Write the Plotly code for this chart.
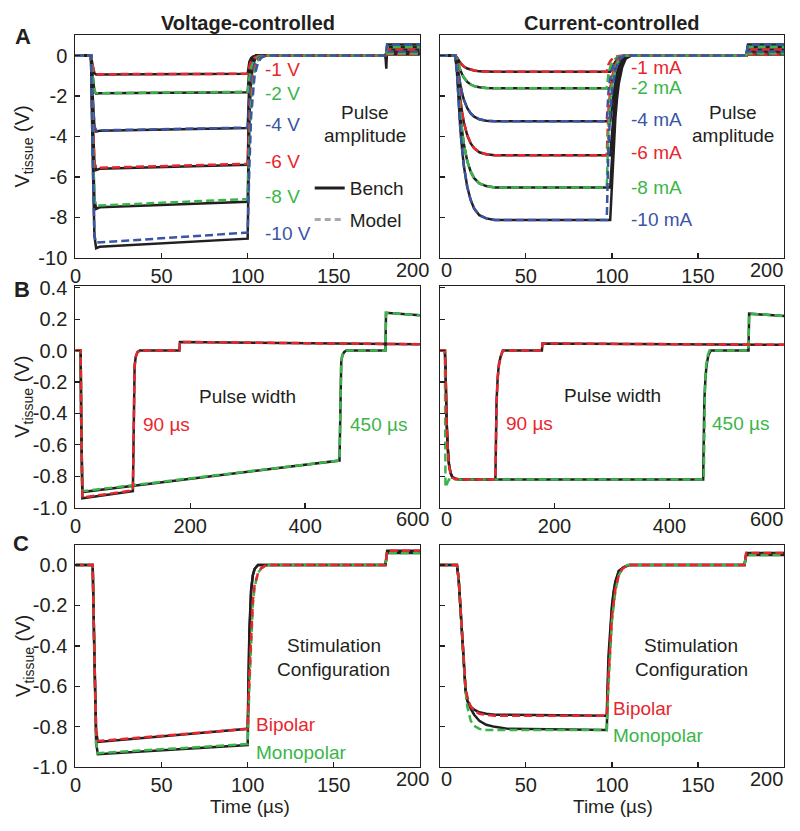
import plotly.graph_objects as go

# ---------------- colours / fonts (style) ----------------
RED = "#e8262d"
GREEN = "#3bb54a"
BLUE = "#3a55a5"
INK = "#231f20"
GRAY = "#a7a9ac"
FONT = "Liberation Sans, Arial, Helvetica, sans-serif"
FS = 20
FS_LAB = 19

# ---------------- DATA ----------------
# Panel A : pulse amplitude
A_V_LABELS = ["-1 V", "-2 V", "-4 V", "-6 V", "-8 V", "-10 V"]
A_I_LABELS = ["-1 mA", "-2 mA", "-4 mA", "-6 mA", "-8 mA", "-10 mA"]
A_V_LABEL_Y = [-0.68, -1.85, -3.4, -5.26, -6.96, -8.8]
A_I_LABEL_Y = [-0.6, -1.56, -3.17, -4.78, -6.52, -8.08]

A_V_T_BENCH = [0, 9, 10, 11, 12, 14, 100, 100.5, 101, 102, 103, 105, 180, 180.5, 181, 200]
A_V_BENCH = [
    [0, 0, -0.5, -0.88, -0.94, -0.93, -0.9, -0.55, -0.3, -0.12, -0.05, 0, 0, 0.03, 0.05, 0.05],
    [0, 0, -1.0, -1.76, -1.88, -1.86, -1.81, -1.1, -0.6, -0.25, -0.1, 0, 0, 0.05, 0.1, 0.1],
    [0, 0, -2.0, -3.52, -3.76, -3.72, -3.58, -2.2, -1.2, -0.5, -0.2, 0, 0, 0.1, 0.2, 0.2],
    [0, 0, -3.0, -5.3, -5.66, -5.6, -5.4, -3.3, -1.8, -0.75, -0.3, 0, 0, 0.15, 0.3, 0.3],
    [0, 0, -4.0, -7.1, -7.58, -7.5, -7.23, -4.4, -2.4, -1.0, -0.4, 0, 0, -0.2, 0.42, 0.42],
    [0, 0, -5.0, -8.9, -9.52, -9.45, -9.05, -5.5, -3.0, -1.25, -0.5, 0, 0, -0.65, 0.55, 0.55],
]
A_V_T_MODEL = [0, 9, 10, 11, 12, 100, 101, 102, 104, 106, 108, 111, 180, 181, 200]
A_V_MODEL = [
    [0, 0, -0.5, -0.88, -0.92, -0.9, -0.55, -0.3, -0.1, -0.03, -0.01, 0, 0, 0.05, 0.05],
    [0, 0, -1.0, -1.75, -1.86, -1.79, -1.1, -0.6, -0.2, -0.07, -0.02, 0, 0, 0.1, 0.1],
    [0, 0, -2.0, -3.5, -3.7, -3.56, -2.2, -1.2, -0.4, -0.13, -0.04, 0, 0, 0.2, 0.2],
    [0, 0, -3.0, -5.3, -5.55, -5.35, -3.3, -1.8, -0.6, -0.2, -0.06, 0, 0, 0.3, 0.3],
    [0, 0, -4.0, -7.1, -7.42, -7.09, -4.4, -2.4, -0.8, -0.27, -0.08, 0, 0, 0.42, 0.42],
    [0, 0, -5.0, -8.9, -9.25, -8.75, -5.5, -3.0, -1.0, -0.33, -0.1, 0, 0, 0.55, 0.55],
]

A_I_T_BENCH = [0, 9, 10, 11, 12, 13, 14, 16, 18, 20, 23, 27, 32, 99, 100, 101, 102, 103, 104, 106, 108, 111, 178, 179, 200]
A_I_BENCH = [
    [0, 0, -0.08, -0.24, -0.36, -0.46, -0.54, -0.64, -0.7, -0.74, -0.78, -0.79, -0.8, -0.8, -0.64, -0.44, -0.3, -0.21, -0.14, -0.06, -0.02, 0, 0, 0.05, 0.05],
    [0, 0, -0.16, -0.49, -0.73, -0.92, -1.09, -1.3, -1.43, -1.51, -1.57, -1.6, -1.62, -1.62, -1.3, -0.89, -0.62, -0.42, -0.28, -0.11, -0.03, 0, 0, 0.1, 0.1],
    [0, 0, -0.33, -0.98, -1.46, -1.85, -2.18, -2.6, -2.86, -3.02, -3.15, -3.22, -3.25, -3.25, -2.6, -1.79, -1.24, -0.85, -0.55, -0.23, -0.07, 0, 0, 0.2, 0.2],
    [0, 0, -0.49, -1.48, -2.22, -2.81, -3.3, -3.94, -4.34, -4.58, -4.78, -4.88, -4.93, -4.93, -3.94, -2.71, -1.87, -1.28, -0.84, -0.35, -0.1, 0, 0, 0.3, 0.3],
    [0, 0, -0.65, -1.96, -2.93, -3.72, -4.37, -5.22, -5.74, -6.06, -6.32, -6.45, -6.52, -6.52, -5.22, -3.59, -2.48, -1.7, -1.11, -0.46, -0.13, 0, 0, 0.42, 0.42],
    [0, 0, -0.81, -2.44, -3.66, -4.63, -5.45, -6.5, -7.15, -7.56, -7.89, -8.05, -8.13, -8.13, -6.5, -4.47, -3.09, -2.11, -1.38, -0.57, -0.16, 0, 0, 0.55, 0.55],
]
A_I_T_MODEL = [0, 9, 10, 11, 12, 13, 14, 16, 18, 20, 23, 27, 32, 97, 98, 99, 100, 102, 104, 107, 178, 179, 200]
A_I_MODEL = [
    [0, 0, -0.08, -0.24, -0.36, -0.46, -0.54, -0.64, -0.7, -0.74, -0.78, -0.79, -0.8, -0.8, -0.44, -0.28, -0.18, -0.07, -0.02, 0, 0, 0.05, 0.05],
    [0, 0, -0.16, -0.49, -0.73, -0.92, -1.09, -1.3, -1.43, -1.51, -1.57, -1.6, -1.62, -1.62, -0.89, -0.57, -0.36, -0.15, -0.05, 0, 0, 0.1, 0.1],
    [0, 0, -0.33, -0.98, -1.46, -1.85, -2.18, -2.6, -2.86, -3.02, -3.15, -3.22, -3.25, -3.25, -1.79, -1.14, -0.72, -0.29, -0.1, 0, 0, 0.2, 0.2],
    [0, 0, -0.49, -1.48, -2.22, -2.81, -3.3, -3.94, -4.34, -4.58, -4.78, -4.88, -4.93, -4.93, -2.71, -1.73, -1.08, -0.44, -0.15, 0, 0, 0.3, 0.3],
    [0, 0, -0.65, -1.96, -2.93, -3.72, -4.37, -5.22, -5.74, -6.06, -6.32, -6.45, -6.52, -6.52, -3.59, -2.28, -1.43, -0.59, -0.2, 0, 0, 0.42, 0.42],
    [0, 0, -0.81, -2.44, -3.66, -4.63, -5.45, -6.5, -7.15, -7.56, -7.89, -8.05, -8.13, -8.13, -4.47, -2.85, -1.79, -0.73, -0.24, 0, 0, 0.55, 0.55],
]

# Panel B : pulse width (90 us and 450 us)
B_WIDTH_LABELS = ["90 µs", "450 µs"]
B_V_T_90 = [0, 9, 10, 11, 12, 100, 101, 102, 103, 105, 108, 112, 181, 182, 600]
B_V_BENCH_90 = [0, 0, -0.45, -0.88, -0.94, -0.895, -0.45, -0.2, -0.1, -0.04, -0.01, 0, 0, 0.055, 0.04]
B_V_MODEL_90 = [0, 0, -0.45, -0.88, -0.935, -0.89, -0.45, -0.2, -0.1, -0.04, -0.01, 0, 0, 0.055, 0.04]
B_V_T_450 = [0, 9, 10, 11, 12, 460, 461, 462, 463, 465, 468, 472, 540, 541, 600]
B_V_BENCH_450 = [0, 0, -0.45, -0.85, -0.9, -0.7, -0.35, -0.15, -0.07, -0.03, -0.01, 0, 0, 0.24, 0.225]
B_V_MODEL_450 = [0, 0, -0.45, -0.85, -0.895, -0.7, -0.35, -0.15, -0.07, -0.03, -0.01, 0, 0, 0.24, 0.225]

B_I_T_90 = [0, 9, 10, 11, 12, 14, 16, 19, 22, 27, 35, 97, 98, 99, 101, 103, 106, 110, 178, 179, 600]
B_I_BENCH_90 = [0, 0, -0.1, -0.3, -0.45, -0.62, -0.72, -0.78, -0.805, -0.815, -0.82, -0.82, -0.5, -0.32, -0.17, -0.09, -0.04, 0, 0, 0.045, 0.037]
B_I_MODEL_90 = [0, 0, -0.1, -0.3, -0.46, -0.63, -0.73, -0.785, -0.81, -0.818, -0.82, -0.82, -0.52, -0.33, -0.18, -0.1, -0.04, 0, 0, 0.045, 0.037]
B_I_T_450_BENCH = [0, 9, 10, 11, 12, 14, 16, 19, 22, 27, 35, 459, 460, 461, 463, 465, 468, 472, 538, 539, 600]
B_I_BENCH_450 = [0, 0, -0.1, -0.3, -0.45, -0.62, -0.72, -0.78, -0.805, -0.815, -0.82, -0.82, -0.5, -0.32, -0.17, -0.09, -0.03, 0, 0, 0.235, 0.22]
B_I_T_450_MODEL = [0, 9, 10, 13, 16, 460, 461, 462, 464, 467, 470, 538, 539, 600]
B_I_MODEL_450 = [0, 0, -0.87, -0.84, -0.82, -0.82, -0.45, -0.25, -0.1, -0.03, 0, 0, 0.235, 0.22]

# Panel C : stimulation configuration (bipolar / monopolar)
C_CONFIG_LABELS = ["Bipolar", "Monopolar"]
C_V_T_BENCH = [0, 10, 11, 12, 13, 100, 100.5, 101, 102, 103, 104, 106, 180, 181, 200]
C_V_BENCH_BI = [0, 0, -0.45, -0.82, -0.875, -0.81, -0.55, -0.32, -0.12, -0.05, -0.02, 0, 0, 0.07, 0.07]
C_V_BENCH_MONO = [0, 0, -0.45, -0.88, -0.935, -0.89, -0.6, -0.35, -0.13, -0.05, -0.02, 0, 0, 0.06, 0.06]
C_V_T_MODEL = [0, 10, 11, 12, 13, 100, 101, 102, 103, 104, 106, 108, 111, 180, 181, 200]
C_V_MODEL_BI = [0, 0, -0.45, -0.82, -0.87, -0.81, -0.55, -0.32, -0.18, -0.1, -0.04, -0.015, 0, 0, 0.07, 0.07]
C_V_MODEL_MONO = [0, 0, -0.45, -0.88, -0.93, -0.885, -0.6, -0.35, -0.2, -0.11, -0.04, -0.015, 0, 0, 0.06, 0.06]

C_I_T_BENCH = [0, 10, 11, 12, 13, 14, 15, 16, 18, 20, 23, 27, 32, 40, 97, 98, 99, 100, 101, 102, 104, 107, 110, 177, 178, 200]
C_I_BENCH_BI = [0, 0, -0.07, -0.2, -0.35, -0.5, -0.62, -0.67, -0.7, -0.715, -0.728, -0.735, -0.74, -0.74, -0.745, -0.45, -0.3, -0.2, -0.13, -0.08, -0.03, -0.01, 0, 0, 0.06, 0.06]
C_I_BENCH_MONO = [0, 0, -0.07, -0.2, -0.35, -0.5, -0.62, -0.67, -0.71, -0.74, -0.77, -0.79, -0.8, -0.81, -0.815, -0.5, -0.33, -0.22, -0.14, -0.09, -0.03, -0.01, 0, 0, 0.05, 0.05]
C_I_T_MODEL = [0, 10, 11, 12, 13, 14, 15, 16, 18, 20, 23, 27, 32, 40, 97, 98, 99, 100, 102, 104, 106, 109, 177, 178, 200]
C_I_MODEL_BI = [0, 0, -0.07, -0.2, -0.35, -0.5, -0.6, -0.65, -0.7, -0.72, -0.735, -0.74, -0.745, -0.745, -0.745, -0.55, -0.38, -0.26, -0.12, -0.05, -0.02, 0, 0, 0.06, 0.06]
C_I_MODEL_MONO = [0, 0, -0.07, -0.2, -0.35, -0.5, -0.62, -0.7, -0.77, -0.795, -0.81, -0.815, -0.815, -0.815, -0.815, -0.6, -0.41, -0.28, -0.13, -0.05, -0.02, 0, 0, 0.05, 0.05]

# Ticks
X_TICKS_200 = [0, 50, 100, 150, 200]
X_TICKS_600 = [0, 200, 400, 600]
A_Y_TICKS = [0, -2, -4, -6, -8, -10]
A_Y_TICKTEXT = ["0", "-2", "-4", "-6", "-8", "-10"]
B_Y_TICKS = [0.4, 0.2, 0.0, -0.2, -0.4, -0.6, -0.8, -1.0]
B_Y_TICKTEXT = ["0.4", "0.2", "0.0", "-0.2", "-0.4", "-0.6", "-0.8", "-1.0"]
C_Y_TICKS = [0.0, -0.2, -0.4, -0.6, -0.8, -1.0]
C_Y_TICKTEXT = ["0.0", "-0.2", "-0.4", "-0.6", "-0.8", "-1.0"]

# ---------------- FIGURE ----------------
W, H = 800, 831
fig = go.Figure()

LW = 2.5
DASH = "8px,4px"


def bench(xa, ya, t, v):
    fig.add_trace(go.Scatter(x=t, y=v, mode="lines", xaxis=xa, yaxis=ya,
                             line=dict(color=INK, width=LW), showlegend=False,
                             hoverinfo="skip"))


def model(xa, ya, t, v, color):
    fig.add_trace(go.Scatter(x=t, y=v, mode="lines", xaxis=xa, yaxis=ya,
                             line=dict(color=color, width=LW, dash=DASH),
                             showlegend=False, hoverinfo="skip"))


A_COLORS = [RED, GREEN, BLUE, RED, GREEN, BLUE]

# Panel A
for v in A_V_BENCH:
    bench("x", "y", A_V_T_BENCH, v)
for v, c in zip(A_V_MODEL, A_COLORS):
    model("x", "y", A_V_T_MODEL, v, c)
for v in A_I_BENCH:
    bench("x2", "y2", A_I_T_BENCH, v)
for v, c in zip(A_I_MODEL, A_COLORS):
    model("x2", "y2", A_I_T_MODEL, v, c)

# Panel B
bench("x3", "y3", B_V_T_450, B_V_BENCH_450)
bench("x3", "y3", B_V_T_90, B_V_BENCH_90)
model("x3", "y3", B_V_T_450, B_V_MODEL_450, GREEN)
model("x3", "y3", B_V_T_90, B_V_MODEL_90, RED)
bench("x4", "y4", B_I_T_450_BENCH, B_I_BENCH_450)
bench("x4", "y4", B_I_T_90, B_I_BENCH_90)
model("x4", "y4", B_I_T_450_MODEL, B_I_MODEL_450, GREEN)
model("x4", "y4", B_I_T_90, B_I_MODEL_90, RED)

# Panel C
bench("x5", "y5", C_V_T_BENCH, C_V_BENCH_MONO)
bench("x5", "y5", C_V_T_BENCH, C_V_BENCH_BI)
model("x5", "y5", C_V_T_MODEL, C_V_MODEL_MONO, GREEN)
model("x5", "y5", C_V_T_MODEL, C_V_MODEL_BI, RED)
bench("x6", "y6", C_I_T_BENCH, C_I_BENCH_MONO)
bench("x6", "y6", C_I_T_BENCH, C_I_BENCH_BI)
model("x6", "y6", C_I_T_MODEL, C_I_MODEL_MONO, GREEN)
model("x6", "y6", C_I_T_MODEL, C_I_MODEL_BI, RED)

# legend entries
fig.add_trace(go.Scatter(x=[None], y=[None], mode="lines", name="Bench", legendgroup="b",
                         line=dict(color=INK, width=3), xaxis="x", yaxis="y"))
fig.add_trace(go.Scatter(x=[None], y=[None], mode="lines", name="Model", legendgroup="m",
                         line=dict(color=GRAY, width=3, dash="6px,4px"), xaxis="x", yaxis="y"))


def px_x(p):
    return p / W


def px_y(p):
    return 1 - p / H


XL = [px_x(70), px_x(417)]
XR = [px_x(437), px_x(784)]
YA = [px_y(255), px_y(27)]
YB = [px_y(511), px_y(284)]
YC = [px_y(777), px_y(549)]

tickfont = dict(family=FONT, size=FS, color=INK)


def axis(domain, anchor, rng, tickvals, ticktext, show, standoff):
    return dict(domain=domain, anchor=anchor, range=rng, tickmode="array",
                tickvals=tickvals, ticktext=ticktext, showticklabels=show,
                ticks="inside", ticklen=5, tickwidth=1.2, tickcolor=INK,
                ticklabelstandoff=standoff,
                showline=True, linecolor=INK, linewidth=1.2, mirror=True,
                showgrid=False, zeroline=False, tickfont=tickfont)


# inner tick labels drawn by the axes; the labels at the panel ends are
# nudged inwards (as in the reference) and written as annotations below
L200 = X_TICKS_200[:-1]
R200 = X_TICKS_200[1:-1]
L600 = X_TICKS_600[:-1]
R600 = X_TICKS_600[1:-1]

fig.update_layout(
    xaxis=axis(XL, "y", [0, 200], L200, [str(v) for v in L200], True, 0),
    yaxis=axis(YA, "x", [-10, 1.0], A_Y_TICKS, A_Y_TICKTEXT, True, 3),
    xaxis2=axis(XR, "y2", [0, 200], R200, [str(v) for v in R200], True, 0),
    yaxis2=axis(YA, "x2", [-10, 1.0], A_Y_TICKS, A_Y_TICKTEXT, False, 3),
    xaxis3=axis(XL, "y3", [0, 600], L600, [str(v) for v in L600], True, 0),
    yaxis3=axis(YB, "x3", [-1.0, 0.41], B_Y_TICKS, B_Y_TICKTEXT, True, 3),
    xaxis4=axis(XR, "y4", [0, 600], R600, [str(v) for v in R600], True, 0),
    yaxis4=axis(YB, "x4", [-1.0, 0.41], B_Y_TICKS, B_Y_TICKTEXT, False, 3),
    xaxis5=axis(XL, "y5", [0, 200], L200, [str(v) for v in L200], True, 0),
    yaxis5=axis(YC, "x5", [-1.0, 0.1], C_Y_TICKS, C_Y_TICKTEXT, True, 3),
    xaxis6=axis(XR, "y6", [0, 200], R200, [str(v) for v in R200], True, 0),
    yaxis6=axis(YC, "x6", [-1.0, 0.1], C_Y_TICKS, C_Y_TICKTEXT, False, 3),
)

ann = []


def txt(text, x, y, xref, yref, color=INK, size=FS, xanchor="center", bold=False,
        angle=0, yanchor="middle"):
    if bold:
        text = "<b>" + text + "</b>"
    ann.append(dict(text=text, x=x, y=y, xref=xref, yref=yref, showarrow=False,
                    xanchor=xanchor, yanchor=yanchor, textangle=angle,
                    font=dict(family=FONT, size=size, color=color)))


# end-of-axis tick labels
for axis_bottom, last in [(255, X_TICKS_200[-1]), (511, X_TICKS_600[-1]), (777, X_TICKS_200[-1])]:
    ylab = px_y(axis_bottom + 12)
    txt(str(last), px_x(410), ylab, "paper", "paper")
    txt(str(X_TICKS_200[0]), px_x(436), ylab, "paper", "paper", xanchor="left")
    txt(str(last), px_x(785), ylab, "paper", "paper", xanchor="right")

# Column titles and panel letters
txt("Voltage-controlled", px_x(243.5), px_y(14), "paper", "paper", bold=True)
txt("Current-controlled", px_x(610.5), px_y(14), "paper", "paper", bold=True)
txt("A", px_x(17), px_y(28), "paper", "paper", size=22, bold=True)
txt("B", px_x(16), px_y(287), "paper", "paper", size=22, bold=True)
txt("C", px_x(15), px_y(548), "paper", "paper", size=22, bold=True)

# Y-axis titles
for yc in [141, 397.5, 663]:
    txt("V<sub>tissue</sub> (V)", px_x(18), px_y(yc), "paper", "paper", angle=-90)

# X-axis titles
txt("Time (µs)", px_x(246), px_y(817), "paper", "paper", size=FS_LAB)
txt("Time (µs)", px_x(612), px_y(817), "paper", "paper", size=FS_LAB)

# Panel A labels
for lab, yv, c in zip(A_V_LABELS, A_V_LABEL_Y, A_COLORS):
    txt(lab, 109, yv, "x", "y", color=c, xanchor="left", size=FS_LAB)
for lab, yv, c in zip(A_I_LABELS, A_I_LABEL_Y, A_COLORS):
    txt(lab, 110, yv, "x2", "y2", color=c, xanchor="left", size=FS_LAB)
txt("Pulse", 168.3, -2.83, "x", "y", size=FS_LAB)
txt("amplitude", 168.3, -3.96, "x", "y", size=FS_LAB)
txt("Pulse", 170.6, -2.83, "x2", "y2", size=FS_LAB)
txt("amplitude", 170.6, -3.96, "x2", "y2", size=FS_LAB)

# Panel B labels
txt("Pulse width", 299, -0.293, "x3", "y3", size=FS_LAB)
txt(B_WIDTH_LABELS[0], 114, -0.47, "x3", "y3", color=RED, xanchor="left", size=FS_LAB)
txt(B_WIDTH_LABELS[1], 474, -0.47, "x3", "y3", color=GREEN, xanchor="left", size=FS_LAB)
txt("Pulse width", 301, -0.287, "x4", "y4", size=FS_LAB)
txt(B_WIDTH_LABELS[0], 112, -0.465, "x4", "y4", color=RED, xanchor="left", size=FS_LAB)
txt(B_WIDTH_LABELS[1], 470, -0.465, "x4", "y4", color=GREEN, xanchor="left", size=FS_LAB)

# Panel C labels
txt("Stimulation", 150, -0.40, "x5", "y5", size=FS_LAB)
txt("Configuration", 150, -0.515, "x5", "y5", size=FS_LAB)
txt(C_CONFIG_LABELS[0], 103.5, -0.786, "x5", "y5", color=RED, xanchor="left", size=FS_LAB)
txt(C_CONFIG_LABELS[1], 103.5, -0.925, "x5", "y5", color=GREEN, xanchor="left", size=FS_LAB)
txt("Stimulation", 146, -0.40, "x6", "y6", size=FS_LAB)
txt("Configuration", 146, -0.515, "x6", "y6", size=FS_LAB)
txt(C_CONFIG_LABELS[0], 99.5, -0.708, "x6", "y6", color=RED, xanchor="left", size=FS_LAB)
txt(C_CONFIG_LABELS[1], 99.5, -0.844, "x6", "y6", color=GREEN, xanchor="left", size=FS_LAB)

fig.update_layout(
    annotations=ann,
    width=W, height=H,
    margin=dict(l=0, r=0, t=0, b=0),
    paper_bgcolor="white", plot_bgcolor="white",
    font=dict(family=FONT, size=FS, color=INK),
    showlegend=True,
    legend=dict(x=px_x(306), y=px_y(164), xanchor="left", yanchor="top",
                bgcolor="rgba(0,0,0,0)", borderwidth=0, traceorder="grouped",
                tracegroupgap=4, font=dict(family=FONT, size=FS_LAB, color=INK),
                itemwidth=30),
)

# remove the browser's default 8 px page margin so the figure fills the window
fig.write_html("out.html",
               config={"displayModeBar": False, "staticPlot": True},
               post_script="document.body.style.margin='0px';document.body.style.overflow='hidden';")
